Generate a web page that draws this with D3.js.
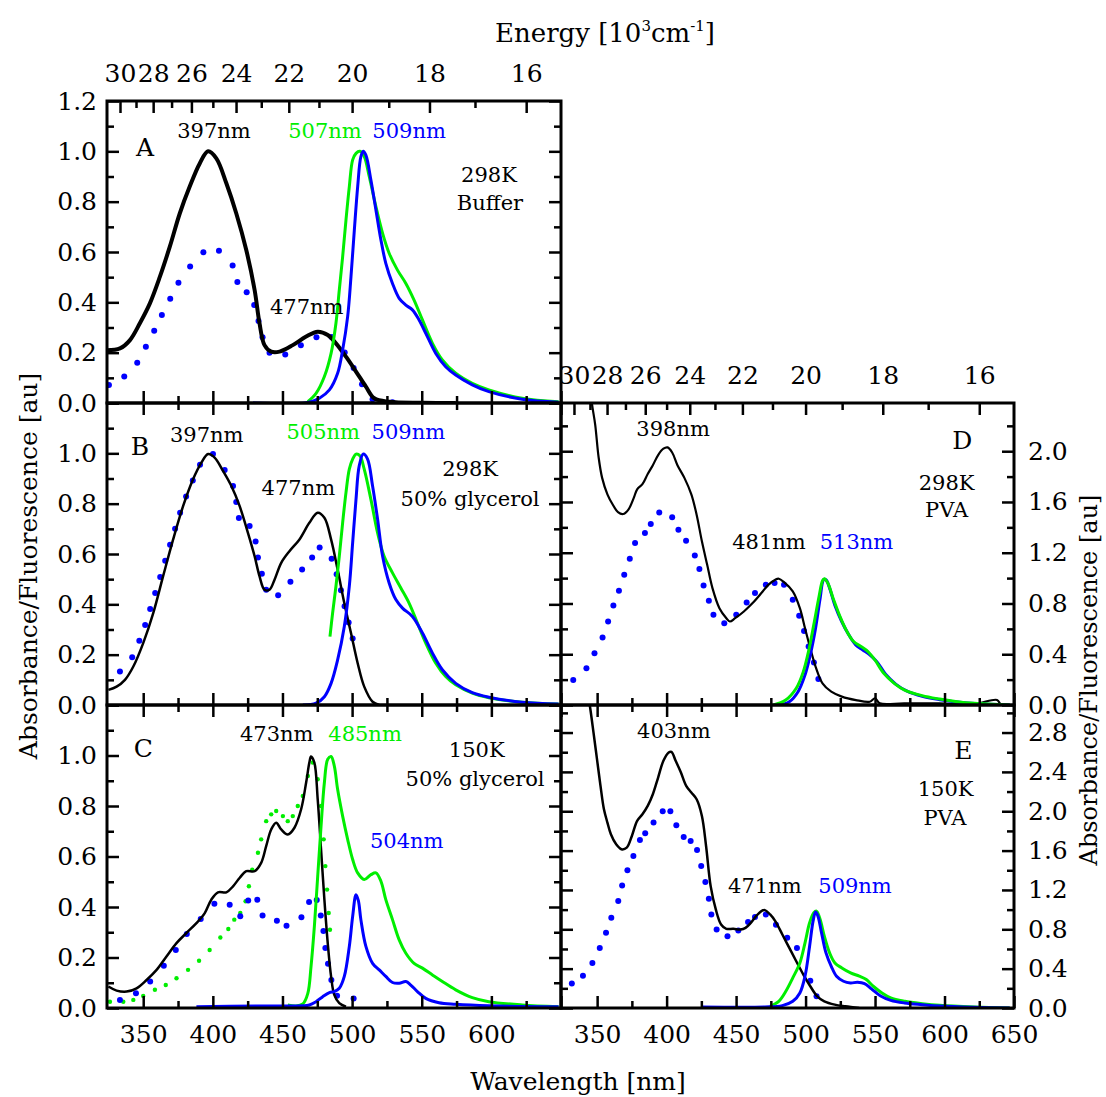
<!DOCTYPE html>
<html>
<head>
<meta charset="utf-8">
<script src="https://cdn.jsdelivr.net/npm/d3@7"></script>
<style>
  body { margin: 0; background: #fff; }
  svg text { font-family: "DejaVu Serif", serif !important; }
</style>
</head>
<body>
<svg id="chart" width="1106" height="1097"></svg>
<script>
// ---- data: [wavelength nm, value] ----
// panel A: 298K buffer
const aAbs = [[324,0.21],[333.3,0.217],[340.5,0.25],[347.6,0.317],[354.8,0.396],[362,0.502],[369.1,0.621],[376.3,0.754],[383.4,0.86],[390.6,0.952],[396.6,1.0],[402.5,0.972],[409.7,0.873],[416.8,0.754],[424,0.608],[430,0.449],[433.5,0.317],[437.1,0.23],[441.9,0.204],[447.9,0.204],[457.4,0.23],[467,0.264],[475.3,0.283],[482.5,0.27],[488.4,0.237],[495.6,0.184],[502.8,0.125],[509.9,0.065],[515.9,0.019],[526.6,0.005],[550.5,0.001],[574.4,0]];
const aExc = [[325.4,0.072],[336.4,0.105],[345.7,0.16],[351.9,0.224],[357.9,0.287],[363.4,0.35],[369.4,0.414],[375.3,0.478],[383.7,0.542],[393.2,0.599],[404.4,0.605],[414.2,0.546],[417.6,0.481],[424.3,0.44],[429.7,0.389],[432.8,0.326],[435.7,0.261],[440.7,0.2],[452,0.193],[463.2,0.229],[474.4,0.261],[485.3,0.262],[494.7,0.201],[501.1,0.139],[507.1,0.075],[514.7,0.015],[529,0.003]];
const aEmG = [[468.2,0.005],[474.1,0.038],[480.1,0.105],[484.9,0.197],[488.4,0.317],[490.8,0.449],[493.2,0.581],[495.6,0.727],[498,0.86],[500.4,0.966],[502.8,0.992],[505.6,1.0],[508.7,0.979],[512.3,0.9],[517.1,0.78],[521.9,0.674],[526.6,0.595],[532.6,0.528],[538.6,0.475],[544.5,0.409],[550.5,0.33],[557.7,0.237],[564.8,0.171],[574.4,0.118],[586.3,0.078],[598.2,0.052],[622.1,0.019],[648.3,0.005]];
const aEmB = [[428.8,0],[467,0.001],[476.5,0.019],[483.7,0.052],[489.6,0.118],[493.2,0.211],[496.8,0.343],[499.2,0.502],[501.6,0.687],[504,0.86],[506.3,0.979],[508,1.0],[509.9,0.985],[513.5,0.886],[517.1,0.767],[520.7,0.648],[524.2,0.555],[529,0.475],[533.8,0.416],[538.6,0.389],[543.3,0.37],[548.1,0.33],[552.9,0.277],[560.1,0.197],[567.2,0.144],[574.4,0.111],[586.3,0.072],[598.2,0.045],[622.1,0.015],[648.3,0.003]];

// panel B: 298K 50% glycerol
const bAbs = [[325,0.06],[330.9,0.073],[336.9,0.1],[342.9,0.153],[350,0.246],[357.2,0.365],[364.3,0.512],[371.5,0.658],[378.7,0.791],[385.8,0.897],[391.8,0.963],[396.6,0.997],[401.3,0.983],[407.3,0.93],[413.3,0.87],[419.2,0.791],[425.2,0.684],[430,0.591],[433.5,0.512],[437.1,0.458],[440.7,0.458],[444.3,0.498],[449.1,0.565],[455,0.611],[462.2,0.658],[469.3,0.724],[475.3,0.764],[480.1,0.744],[484.9,0.658],[489.6,0.538],[494.4,0.405],[499.2,0.286],[504,0.166],[508.7,0.073],[514.7,0.013],[519.5,0]];
const bExc = [[333.3,0.133],[342.1,0.19],[347.2,0.255],[351.4,0.318],[355,0.381],[358.6,0.445],[362.2,0.509],[365.8,0.573],[369.3,0.637],[372.9,0.7],[376.5,0.764],[380.8,0.828],[385.6,0.892],[390.8,0.955],[400.1,0.997],[408.5,0.934],[414.5,0.87],[416.8,0.807],[418.7,0.743],[426.4,0.711],[430.7,0.65],[432.4,0.586],[435.2,0.522],[438.3,0.458],[446.9,0.436],[455.7,0.49],[464.1,0.538],[471.3,0.586],[476.7,0.626],[485.3,0.581],[488.9,0.52],[492,0.456],[494.6,0.392],[497.5,0.328],[500.4,0.264]];
const bEmG = [[484.1,0.272],[486,0.365],[488.4,0.472],[490.8,0.591],[493.2,0.724],[495.6,0.844],[498,0.937],[500.4,0.977],[502.8,0.997],[505.6,0.99],[508.7,0.937],[513.5,0.817],[518.3,0.684],[523,0.591],[529,0.525],[535,0.465],[540.9,0.405],[546.9,0.326],[552.9,0.246],[560.1,0.166],[567.2,0.113],[574.4,0.08],[586.3,0.047],[598.2,0.029],[622.1,0.011],[648.3,0.004]];
const bEmB = [[464.6,0],[474.1,0.007],[480.1,0.033],[484.9,0.086],[489.6,0.179],[494.4,0.312],[498,0.472],[500.4,0.645],[502.8,0.817],[505.1,0.95],[508,0.997],[511.1,0.977],[514.7,0.87],[518.3,0.738],[521.9,0.591],[526.6,0.485],[531.4,0.419],[536.2,0.385],[543.3,0.352],[550.5,0.286],[557.7,0.206],[564.8,0.14],[574.4,0.086],[586.3,0.049],[598.2,0.031],[622.1,0.011],[648.3,0.004]];

// panel C: 150K 50% glycerol
const cAbs = [[325,0.085],[330.9,0.069],[338.1,0.065],[345.2,0.078],[352.4,0.111],[359.6,0.151],[366.7,0.204],[373.9,0.257],[381,0.297],[388.2,0.336],[394.2,0.376],[398.9,0.429],[403.7,0.458],[409.7,0.458],[414.5,0.482],[419.2,0.515],[424,0.542],[430,0.542],[434.7,0.575],[438.3,0.641],[441.9,0.707],[445.5,0.734],[449.1,0.707],[453.8,0.687],[458.6,0.714],[463.4,0.787],[467,0.893],[469.3,0.972],[470.5,0.996],[472.9,0.972],[475.3,0.826],[477.7,0.628],[480.1,0.429],[482.5,0.257],[484.9,0.125],[487.2,0.052],[490.8,0.019],[495.6,0.005]];
const cExcB = [[333.3,0.032],[344.8,0.058],[355,0.105],[364.8,0.167],[373.4,0.23],[381.3,0.293],[391.3,0.352],[401.1,0.413],[412.1,0.409],[419.7,0.363],[425.4,0.426],[431.9,0.429],[435.7,0.366],[446,0.346],[452.9,0.326],[463.6,0.359],[469.1,0.42],[474.6,0.428],[477.5,0.366],[479.4,0.305],[480.8,0.238],[482.7,0.175],[485.1,0.111],[489.2,0.049],[501.1,0.038]];
const cExcG = [[326.1,0.025],[335.7,0.025],[342.9,0.032],[350,0.048],[358.4,0.072],[366.2,0.091],[373.9,0.118],[382.2,0.151],[390.1,0.187],[397.7,0.23],[405.4,0.279],[411.1,0.313],[415.4,0.35],[419.7,0.376],[423.5,0.423],[425.9,0.482],[428.3,0.548],[432.4,0.615],[434.7,0.668],[438.3,0.74],[441.9,0.767],[445.5,0.78],[450.3,0.76],[453.8,0.74],[457.4,0.76],[461,0.8],[464.6,0.84],[468.2,0.919],[471.7,0.972],[475.3,0.906],[477.7,0.8],[479.6,0.668],[480.8,0.562],[482,0.469],[483.2,0.376],[484.1,0.31]];
const cEmG = [[453.8,0.012],[459.8,0.008],[464.6,0.016],[468.2,0.058],[470.5,0.164],[472.9,0.323],[475.3,0.522],[477.7,0.72],[480.1,0.893],[482.5,0.985],[484.9,0.996],[487.2,0.959],[489.6,0.866],[493.2,0.76],[496.8,0.668],[500.4,0.588],[504,0.535],[508.7,0.509],[513.5,0.528],[517.1,0.535],[520.7,0.502],[524.2,0.429],[529,0.35],[533.8,0.27],[538.6,0.217],[544.5,0.177],[550.5,0.158],[557.7,0.131],[564.8,0.105],[574.4,0.072],[586.3,0.041],[598.2,0.025],[622.1,0.012],[648.3,0.005]];
const cEmB = [[388.2,0.005],[431.2,0.008],[455,0.008],[469.3,0.012],[474.1,0.025],[478.9,0.045],[483.7,0.061],[487.2,0.065],[490.8,0.078],[494.4,0.125],[498,0.244],[500.4,0.363],[502.8,0.449],[504.5,0.425],[506.3,0.35],[509.9,0.244],[514.7,0.177],[519.5,0.151],[524.2,0.125],[529,0.101],[533.8,0.098],[538.6,0.105],[542.1,0.091],[546.9,0.065],[552.9,0.038],[562.4,0.021],[574.4,0.015],[598.2,0.009],[648.3,0.005]];

// panel D: 298K PVA
const dAbs = [[344.8,2.58],[346.1,2.39],[348.6,2.21],[351.1,1.95],[353.6,1.79],[357.4,1.66],[361.2,1.58],[365,1.52],[368.7,1.505],[372.5,1.54],[376.3,1.63],[378.8,1.7],[382.6,1.74],[386.4,1.82],[390.1,1.89],[393.9,1.97],[397.7,2.02],[400.7,2.03],[404,1.99],[407.8,1.89],[412.8,1.79],[417.8,1.66],[421.6,1.5],[425.4,1.29],[429.2,1.105],[433,0.921],[438,0.763],[443,0.684],[445.5,0.658],[449.3,0.684],[455.6,0.737],[461.9,0.803],[468.2,0.882],[473.2,0.947],[478.2,0.987],[480.8,0.995],[484.5,0.968],[490.8,0.895],[495.9,0.763],[499.6,0.605],[503.4,0.447],[507.2,0.303],[512.2,0.171],[518.5,0.105],[526.1,0.066],[536.2,0.039],[546.2,0.026],[550,0.053],[553.4,0.013],[571,0.013],[596.2,0.013],[621.4,0.008],[637.8,0.04],[640.3,0.008],[646.6,0]];
const dExc = [[332.8,0.197],[342.3,0.289],[348.1,0.408],[353.9,0.532],[357.9,0.658],[361.7,0.784],[365.7,0.9],[369.5,1.026],[373.5,1.153],[377.3,1.276],[384.4,1.355],[388.6,1.426],[394.7,1.518],[404,1.479],[408.5,1.382],[414,1.295],[420.3,1.179],[423.6,1.071],[426.6,0.942],[430.4,0.821],[433.7,0.711],[441.5,0.645],[450.1,0.711],[457.6,0.808],[463.6,0.882],[471.4,0.947],[477.7,0.961],[484.5,0.947],[490.8,0.829],[495.4,0.703],[498.9,0.584],[502.2,0.461],[506,0.334],[509.2,0.205]];
const dEmG = [[476.9,0],[485.7,0.039],[493.3,0.132],[498.4,0.263],[502.1,0.421],[505.9,0.632],[509.7,0.855],[512.2,0.979],[513.5,0.995],[516,0.961],[519.8,0.842],[524.8,0.697],[529.8,0.579],[534.6,0.5],[539.9,0.461],[544.9,0.421],[549.9,0.355],[556.3,0.25],[563.8,0.171],[571.3,0.118],[583.9,0.074],[596.5,0.047],[609.1,0.026],[621.7,0.013],[646.9,0]];
const dEmB = [[480.7,0],[488.3,0.026],[494.6,0.105],[499.6,0.237],[503.4,0.395],[507.2,0.605],[510.5,0.842],[513,0.987],[514.7,0.987],[517.3,0.921],[521,0.789],[526,0.658],[531.1,0.553],[536.1,0.474],[541.2,0.434],[546.2,0.395],[551.3,0.342],[557.6,0.242],[565.1,0.163],[572.7,0.111],[584,0.068],[596.6,0.042],[609.2,0.024],[621.8,0.011],[647,0]];

// panel E: 150K PVA
const eAbs = [[343.6,3.17],[344.8,3.07],[347.4,2.8],[349.9,2.53],[352.4,2.26],[354.9,2.02],[357.4,1.885],[359.9,1.766],[363.7,1.664],[367.5,1.613],[371.3,1.63],[375,1.749],[378.8,1.902],[382.6,1.969],[386.4,2.054],[390.1,2.173],[393.9,2.343],[397.7,2.513],[401.5,2.598],[403.5,2.604],[406.5,2.513],[410.3,2.394],[414.1,2.258],[417.8,2.19],[421.6,2.122],[425.4,1.952],[428.4,1.647],[431.7,1.239],[435.4,1.002],[439.2,0.849],[443,0.805],[448,0.805],[453.1,0.798],[456.8,0.815],[460.6,0.866],[464.4,0.934],[468.2,0.985],[470.7,0.995],[474.5,0.951],[478.2,0.883],[483.3,0.747],[488.3,0.611],[493.3,0.475],[498.4,0.34],[503.4,0.221],[508.4,0.119],[513.5,0.068],[521,0.034],[528.6,0.017],[538.6,0]];
const eExc = [[331.8,0.248],[339.8,0.329],[346.6,0.458],[351.9,0.611],[356.4,0.764],[360.2,0.917],[365.2,1.087],[368,1.246],[371.8,1.399],[376.1,1.545],[380.8,1.708],[384.6,1.776],[390.6,1.885],[397.2,2.0],[402.7,2.0],[407,1.857],[412.3,1.739],[417.3,1.698],[421.9,1.606],[424.9,1.443],[427.9,1.28],[430.4,1.11],[432.2,0.951],[436,0.798],[443.8,0.73],[451.6,0.788],[458.6,0.873],[463.6,0.924],[471.4,0.951],[478.7,0.846],[486.8,0.713],[493.8,0.611],[503.4,0.278],[507.9,0.119]];
const eEmG = [[474.4,0.017],[480.7,0.068],[485.8,0.17],[490.8,0.306],[495.9,0.458],[499.6,0.662],[502.9,0.866],[505.9,0.968],[507.9,0.985],[510.5,0.9],[513.5,0.73],[517.3,0.56],[521.1,0.458],[526.1,0.407],[532.4,0.357],[538.7,0.323],[543.7,0.289],[548.7,0.221],[555,0.153],[561.3,0.102],[571.4,0.068],[584,0.044],[596.6,0.027],[621.7,0.01],[646.9,0]];
const eEmB = [[425.4,0.01],[470.7,0.01],[483.3,0.024],[490.8,0.068],[495.9,0.153],[499.6,0.323],[502.9,0.628],[505.4,0.883],[507.2,0.975],[508.9,0.934],[511.5,0.764],[514.7,0.56],[518.5,0.424],[522.3,0.323],[527.3,0.272],[532.3,0.255],[537.4,0.261],[542.4,0.248],[547.4,0.194],[553.7,0.125],[561.3,0.078],[571.3,0.051],[583.9,0.034],[596.5,0.02],[621.7,0.007],[646.9,0]];

// annotations: [text, wavelength, value, colour key]
const aNotes = [['A',351.3,1.018,'k'],['397nm',400.8,1.082,'k'],['507nm',480.5,1.082,'g'],['509nm',540.9,1.082,'b'],['298K',598.3,0.906,'k'],['Buffer',599,0.795,'k'],['477nm',467.4,0.383,'k']];
const bNotes = [['B',347.7,1.029,'k'],['397nm',395.6,1.075,'k'],['505nm',479.3,1.088,'g'],['509nm',540.4,1.088,'b'],['477nm',461.4,0.865,'k'],['298K',584.7,0.94,'k'],['50% glycerol',584.7,0.821,'k']];
const cNotes = [['C',350.1,1.028,'k'],['473nm',445.9,1.085,'k'],['485nm',509.3,1.085,'g'],['150K',589.5,1.025,'k'],['50% glycerol',588.3,0.909,'k'],['504nm',539.2,0.661,'b']];
const dNotes = [['D',612.8,2.088,'k'],['398nm',404.7,2.18,'k'],['298K',601.5,1.755,'k'],['PVA',601.5,1.537,'k'],['481nm',473.7,1.288,'k'],['513nm',536.6,1.288,'b']];
const eNotes = [['E',613.6,2.62,'k'],['403nm',405.2,2.817,'k'],['150K',600.8,2.23,'k'],['PVA',600.3,1.934,'k'],['471nm',470.7,1.244,'k'],['509nm',535.6,1.244,'b']];

// ticks
const wlMajor = [350, 400, 450, 500, 550, 600, 650];
const wlMinor = [375, 425, 475, 525, 575, 625];
const energyMajor = [30, 28, 26, 24, 22, 20, 18, 16];
const energyMinor = [29, 27, 25, 23, 21, 19, 17];
const leftMajor = [0, 0.2, 0.4, 0.6, 0.8, 1.0, 1.2];
const leftMinor = [0.1, 0.3, 0.5, 0.7, 0.9, 1.1];
const dMajor = [0, 0.4, 0.8, 1.2, 1.6, 2.0];
const dMinor = [0.2, 0.6, 1.0, 1.4, 1.8, 2.2];
const eMajor = [0, 0.4, 0.8, 1.2, 1.6, 2.0, 2.4, 2.8];
const eMinor = [0.2, 0.6, 1.0, 1.4, 1.8, 2.2, 2.6, 3.0];

// ---- layout ----
const FONT = '"DejaVu Serif", serif';
const colors = {k: '#000', g: '#00ee00', b: '#0000ff'};
const wlDomain = [324, 650];
const cols = [[107, 561], [561, 1014]];
const rows = [[101, 403], [403, 705], [705, 1008]];

const panels = [
  {id: 'A', col: 0, row: 0, yMax: 1.2, major: leftMajor, minor: leftMinor, yLabels: leftMajor, energy: true, xLabels: null, notes: aNotes,
   series: [{d: aExc, c: 'b', dots: 3}, {d: aAbs, c: 'k', w: 4}, {d: aEmG, c: 'g', w: 3}, {d: aEmB, c: 'b', w: 3}]},
  {id: 'B', col: 0, row: 1, yMax: 1.2, major: leftMajor, minor: leftMinor, yLabels: leftMajor.slice(0, 6), energy: false, xLabels: null, notes: bNotes,
   series: [{d: bExc, c: 'b', dots: 3}, {d: bAbs, c: 'k', w: 2.5}, {d: bEmG, c: 'g', w: 3}, {d: bEmB, c: 'b', w: 3}]},
  {id: 'C', col: 0, row: 2, yMax: 1.2, major: leftMajor, minor: leftMinor, yLabels: leftMajor.slice(0, 6), energy: false, xLabels: wlMajor.slice(0, 6), notes: cNotes,
   series: [{d: cExcG, c: 'g', dots: 2.2}, {d: cExcB, c: 'b', dots: 3}, {d: cAbs, c: 'k', w: 2.5}, {d: cEmG, c: 'g', w: 3}, {d: cEmB, c: 'b', w: 3}]},
  {id: 'D', col: 1, row: 1, yMax: 2.38, major: dMajor, minor: dMinor, yLabels: dMajor, energy: true, xLabels: null, notes: dNotes,
   series: [{d: dExc, c: 'b', dots: 3}, {d: dAbs, c: 'k', w: 2.2}, {d: dEmB, c: 'b', w: 3}, {d: dEmG, c: 'g', w: 3}]},
  {id: 'E', col: 1, row: 2, yMax: 3.08, major: eMajor, minor: eMinor, yLabels: eMajor, energy: false, xLabels: wlMajor, notes: eNotes,
   series: [{d: eExc, c: 'b', dots: 3}, {d: eAbs, c: 'k', w: 2.5}, {d: eEmG, c: 'g', w: 3}, {d: eEmB, c: 'b', w: 3}]}
];

const svg = d3.select('#chart').style('font-family', FONT);
const defs = svg.append('defs');
const borders = [];

function tickAxis(g, axis, values, size, transform, fmt, pad) {
  const a = g.append('g')
    .attr('transform', transform)
    .call(axis.tickValues(values).tickSize(-size).tickPadding(pad || 0).tickFormat(fmt || (() => '')));
  a.attr('font-family', null).style('font-family', FONT);
  a.select('.domain').remove();
  a.selectAll('line').attr('stroke', '#000').attr('stroke-width', 2.5);
  a.selectAll('text').attr('font-size', 25).style('font-family', FONT).attr('fill', '#000');
  return a;
}

function drawPanel(p) {
  const [x0, x1] = cols[p.col];
  const [y0, y1] = rows[p.row];
  const x = d3.scaleLinear().domain(wlDomain).range([x0, x1]);
  const y = d3.scaleLinear().domain([0, p.yMax]).range([y1, y0]);
  const g = svg.append('g');

  defs.append('clipPath').attr('id', 'clip' + p.id)
    .append('rect').attr('x', x0).attr('y', y0).attr('width', x1 - x0).attr('height', y1 - y0);
  const plot = g.append('g').attr('clip-path', 'url(#clip' + p.id + ')');

  // curves and dotted series
  const line = d3.line().x(d => x(d[0])).y(d => y(d[1])).curve(d3.curveCatmullRom.alpha(0.5));
  p.series.forEach(s => {
    if (s.dots) {
      plot.append('g').selectAll('circle').data(s.d).join('circle')
        .attr('cx', d => x(d[0])).attr('cy', d => y(d[1])).attr('r', s.dots)
        .attr('fill', colors[s.c]);
    } else {
      plot.append('path').datum(s.d)
        .attr('fill', 'none').attr('stroke', colors[s.c]).attr('stroke-width', s.w)
        .attr('stroke-linejoin', 'round').attr('d', line);
    }
  });

  // bottom wavelength ticks
  const wlFmt = p.xLabels ? (v => p.xLabels.includes(v) ? v : '') : null;
  tickAxis(g, d3.axisBottom(x), wlMajor, 12, `translate(0,${y1})`, wlFmt, 17);
  tickAxis(g, d3.axisBottom(x), wlMinor, 7, `translate(0,${y1})`);

  // top: energy scale or mirrored wavelength ticks
  if (p.energy) {
    tickAxis(g, d3.axisTop(x), energyMajor.map(e => 1e4 / e), 12, `translate(0,${y0})`, w => Math.round(1e4 / w), 19);
    tickAxis(g, d3.axisTop(x), energyMinor.map(e => 1e4 / e), 7, `translate(0,${y0})`);
  } else {
    tickAxis(g, d3.axisTop(x), wlMajor, 12, `translate(0,${y0})`);
    tickAxis(g, d3.axisTop(x), wlMinor, 7, `translate(0,${y0})`);
  }

  // y ticks on both sides, labels on the outer side only
  const yFmt = v => p.yLabels.includes(v) ? v.toFixed(1) : '';
  tickAxis(g, d3.axisLeft(y), p.major, 12, `translate(${x0},0)`, p.col === 0 ? yFmt : null, 10);
  tickAxis(g, d3.axisLeft(y), p.minor, 7, `translate(${x0},0)`);
  tickAxis(g, d3.axisRight(y), p.major, 12, `translate(${x1},0)`, p.col === 1 ? yFmt : null, 14);
  tickAxis(g, d3.axisRight(y), p.minor, 7, `translate(${x1},0)`);

  // annotations
  g.append('g').selectAll('text').data(p.notes).join('text')
    .attr('x', d => x(d[1])).attr('y', d => y(d[2]))
    .attr('dy', '0.35em').attr('text-anchor', 'middle')
    .attr('font-size', d => d[0].length === 1 ? 25 : 21)
    .style('font-family', FONT)
    .attr('fill', d => colors[d[3]])
    .text(d => d[0]);

  borders.push([x0, y0, x1 - x0, y1 - y0]);
}

panels.forEach(drawPanel);

svg.append('g').selectAll('rect').data(borders).join('rect')
  .attr('x', d => d[0]).attr('y', d => d[1]).attr('width', d => d[2]).attr('height', d => d[3])
  .attr('fill', 'none').attr('stroke', '#000').attr('stroke-width', 3);

// titles
const title = svg.append('text').attr('x', 605).attr('y', 42).attr('text-anchor', 'middle')
  .attr('font-size', 26).attr('fill', '#000').style('font-family', FONT);
title.append('tspan').text('Energy [10');
title.append('tspan').attr('font-size', 15).attr('dy', -11).text('3');
title.append('tspan').attr('dy', 11).text('cm');
title.append('tspan').attr('font-size', 15).attr('dy', -11).text('-1');
title.append('tspan').attr('dy', 11).text(']');

svg.append('text').attr('x', 578).attr('y', 1090).attr('text-anchor', 'middle')
  .attr('font-size', 25).attr('fill', '#000').style('font-family', FONT).text('Wavelength [nm]');

svg.append('text').attr('transform', 'translate(28,566) rotate(-90)').attr('dy', '0.35em')
  .attr('text-anchor', 'middle').attr('font-size', 25).attr('fill', '#000').style('font-family', FONT)
  .text('Absorbance/Fluorescence [au]');

svg.append('text').attr('transform', 'translate(1089,680) rotate(-90)').attr('dy', '0.35em')
  .attr('text-anchor', 'middle').attr('font-size', 24).attr('fill', '#000').style('font-family', FONT)
  .text('Absorbance/Fluorescence [au]');
</script>
</body>
</html>
